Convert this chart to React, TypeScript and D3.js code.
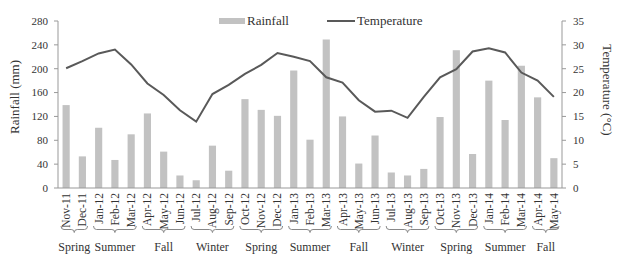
import React from "react";
import * as d3 from "d3";

const months = ["Nov-11","Dec-11","Jan-12","Feb-12","Mar-12","Apr-12","May-12","Jun-12","Jul-12","Aug-12","Sep-12","Oct-12","Nov-12","Dec-12","Jan-13","Feb-13","Mar-13","Apr-13","May-13","Jun-13","Jul-13","Aug-13","Sep-13","Oct-13","Nov-13","Dec-13","Jan-14","Feb-14","Mar-14","Apr-14","May-14"];
const rainfall = [139,53,101,47,90,125,61,21,13,71,29,149,131,121,197,81,249,120,41,88,26,21,32,119,231,57,180,114,205,152,50];
const temperature = [25.1,26.6,28.2,29.0,25.9,21.9,19.5,16.3,13.9,19.7,21.6,23.9,25.8,28.3,27.5,26.6,23.2,22.1,18.4,16.0,16.2,14.7,19.1,23.2,24.9,28.6,29.3,28.4,24.2,22.5,19.1];
const seasons = ["Spring","Summer","Fall","Winter","Spring","Summer","Fall","Winter","Spring","Summer","Fall"];
const seasonCounts = [2,3,3,3,3,3,3,3,3,3,2];
const rainTicks = [0,40,80,120,160,200,240,280];
const tempTicks = [0,5,10,15,20,25,30,35];

const W = 624, H = 259;
const L = 58, R = 562, T = 21, B = 188;
const font = "'Liberation Serif', 'Times New Roman', serif";
const txt = "#333";
const axisCol = "#999";

export default function App() {
  const x = d3.scaleBand<string>().domain(months).range([L, R]).paddingInner(0.56).paddingOuter(0.28);
  const yR = d3.scaleLinear().domain([0, 280]).range([B, T]);
  const yT = d3.scaleLinear().domain([0, 35]).range([B, T]);
  const cx = (m: string) => (x(m) as number) + x.bandwidth() / 2;
  const line = d3.line<number>().x((_, i) => cx(months[i])).y(d => yT(d));
  const step = x.step();

  let start = 0;
  const groups = seasons.map((s, i) => {
    const n = seasonCounts[i];
    const a = cx(months[start]) - step / 2 + 3;
    const b = cx(months[start + n - 1]) + step / 2 - 3;
    start += n;
    return { s, a, b };
  });

  const brace = (a: number, b: number) => {
    const m = (a + b) / 2;
    const y0 = 226, y1 = 229.5, y2 = 232.5;
    return `M${a},${y0} Q${a},${y1} ${a + 3},${y1} L${m - 3},${y1} Q${m},${y1} ${m},${y2} Q${m},${y1} ${m + 3},${y1} L${b - 3},${y1} Q${b},${y1} ${b},${y0}`;
  };

  return (
    <svg width={W} height={H} style={{ position: "absolute", left: 0, top: 0, background: "#fff" }} fontFamily={font}>
      {rainfall.map((v, i) => (
        <rect key={i} x={x(months[i])} y={yR(v)} width={x.bandwidth()} height={B - yR(v)} fill="#c2c2c2" />
      ))}
      <path d={line(temperature) || ""} fill="none" stroke="#595959" strokeWidth={2} />
      <line x1={L} x2={L} y1={T} y2={B} stroke={axisCol} />
      {rainTicks.map(t => (
        <g key={t}>
          <line x1={L - 4} x2={L} y1={yR(t)} y2={yR(t)} stroke={axisCol} />
          <text x={L - 10} y={yR(t)} dy="0.35em" textAnchor="end" fontSize={11} fill={txt}>{t}</text>
        </g>
      ))}
      <line x1={R} x2={R} y1={T} y2={B} stroke={axisCol} />
      {tempTicks.map(t => (
        <g key={t}>
          <line x1={R} x2={R + 4} y1={yT(t)} y2={yT(t)} stroke={axisCol} />
          <text x={R + 11} y={yT(t)} dy="0.35em" textAnchor="start" fontSize={11} fill={txt}>{t}</text>
        </g>
      ))}
      <line x1={L} x2={R} y1={B} y2={B} stroke={axisCol} />
      {months.map(m => (
        <text key={m} transform={`translate(${cx(m) + 4},${B + 5}) rotate(-90)`} textAnchor="end" fontSize={11.5} fill={txt}>{m}</text>
      ))}
      {groups.map((g, i) => (
        <g key={i}>
          <path d={brace(g.a, g.b)} fill="none" stroke="#888" strokeWidth={1} />
          <text x={(g.a + g.b) / 2} y={251} textAnchor="middle" fontSize={12} fill={txt}>{g.s}</text>
        </g>
      ))}
      <text transform={`translate(19,97) rotate(-90)`} textAnchor="middle" fontSize={13} fill={txt}>Rainfall (mm)</text>
      <text transform={`translate(603,90) rotate(90)`} textAnchor="middle" fontSize={13} fill={txt}>Temperature (°C)</text>
      <rect x={219} y={18} width={26} height={6} fill="#c2c2c2" />
      <text x={247} y={25} fontSize={13} fill={txt}>Rainfall</text>
      <line x1={327} x2={355} y1={21} y2={21} stroke="#595959" strokeWidth={2} />
      <text x={357} y={25} fontSize={13} fill={txt}>Temperature</text>
    </svg>
  );
}
